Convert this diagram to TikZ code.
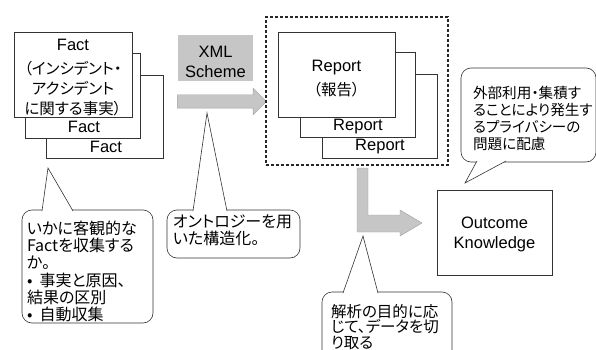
\documentclass[tikz,border=0pt]{standalone}
\usepackage{fontspec}
\setmainfont{Liberation Sans}
\newfontfamily\jpfont[RawFeature=+palt]{Noto Sans CJK JP}
\usepackage{tikz}
\usetikzlibrary{calc,shapes.arrows}
\newcommand{\latsize}{\fontsize{16.5}{20}\selectfont}
\newcommand{\jpsize}{\fontsize{16}{17.2}\selectfont}
\newcommand{\calltail}[3]{%
    \fill[white] (#1) -- (#2) -- (#3) -- cycle;
    \draw[callline] (#1) -- (#2) -- (#3);}

\begin{document}
\begin{tikzpicture}[x=1pt,y=-1pt,
    every node/.style={inner sep=0pt,outer sep=0pt},
    box/.style={draw=black!80,line width=0.6pt,fill=white,anchor=north west},
    greybox/.style={fill=gray!45,anchor=north west},
    bigarrow/.style={fill=gray!45,draw=gray!75,line width=0.4pt},
    reportframe/.style={draw=black!85,line width=1.5pt,densely dashed,anchor=north west},
    lbl/.style={font=\latsize},
    boxtext/.style={align=center,font={\fontsize{15.5}{20}\selectfont\jpfont}},
    callout/.style={draw=black!80,line width=0.6pt,fill=white,rounded corners=10pt,anchor=north west},
    calltext/.style={anchor=north west,align=left,font=\jpsize\jpfont},
    callline/.style={draw=black!80,line width=0.6pt}]

    % Define the page as the reference size
    \useasboundingbox (0,0) rectangle (596,350);

    % Facts
    \node (fact3) [box,minimum width=117pt,minimum height=83pt] at (46,75) {};
    \node (fact2) [box,minimum width=115pt,minimum height=85pt] at (25,53) {};
    \node (fact1) [box,minimum width=118pt,minimum height=85pt] at (14,32) {};
    \node (tfact1) [boxtext] at ($(fact1.center)+(0,3)$)
        {{\latsize\rmfamily Fact}\\[4pt]（インシデント・\\アクシデント\\に関する事実）};
    \node (lblfact2) [lbl] at (84,127) {Fact};
    \node (lblfact3) [lbl] at (106,147) {Fact};

    % XML Scheme
    \node (xml) [greybox,minimum width=75pt,minimum height=46pt] at (178,35) {};
    \node (txml) [lbl,align=center] at ($(xml.center)+(0,4)$) {XML\\Scheme};
    \node (xmlarrow) [single arrow,fill=gray!45,draw=gray!75,line width=0.4pt,
        minimum height=89pt,inner ysep=6.5pt,single arrow head extend=6.5pt] at (218.5,101.5) {};

    % Reports
    \node (repframe) [reportframe,minimum width=182pt,minimum height=148pt] at (266,17) {};
    \node (report3) [box,minimum width=115pt,minimum height=84pt] at (322,74) {};
    \node (report2) [box,minimum width=115pt,minimum height=85pt] at (300,52) {};
    \node (report1) [box,minimum width=117pt,minimum height=85pt] at (278,32) {};
    \node (treport1) [boxtext] at ($(report1.center)+(0,4)$)
        {{\latsize\rmfamily Report}\\[4pt]（報告）};
    \node (lblreport2) [lbl] at (358,127) {Report};
    \node (lblreport3) [lbl] at (380,147) {Report};

    % bent arrow down to the outcome
    \filldraw[bigarrow] (357,168) -- (368,168) -- (368,215) -- (400,215) -- (400,210)
        -- (422,223) -- (400,236) -- (400,232) -- (357,232) -- cycle;

    \node (outcome) [box,minimum width=115pt,minimum height=85pt] at (437,190) {};
    \node (toutcome) [lbl,align=center] at ($(outcome.center)+(0,2)$) {Outcome\\Knowledge};

    % Callouts
    \coordinate (tipfact) at (48,168);
    \coordinate (tipxml) at (207,113);
    \coordinate (tippriv) at (465,183);
    \coordinate (tipcut) at (363,236);

    \node (cfact) [callout,minimum width=131pt,minimum height=113pt] at (22,210) {};
    \calltail{42,211}{tipfact}{73,211}
    \node (tfact) [calltext] at (27,221)
        {いかに客観的な\\Factを収集する\\か。\\•\ \ 事実と原因、\\結果の区別\\•\ \ 自動収集};

    \node (cxml) [callout,minimum width=133pt,minimum height=48pt] at (167,210) {};
    \calltail{193,211}{tipxml}{227,211}
    \node (txml2) [calltext] at (173,215) {オントロジーを用\\いた構造化。};

    \node (cpriv) [callout,minimum width=135pt,minimum height=94pt] at (461,68) {};
    \calltail{477,161}{tippriv}{506,161}
    \node (tpriv) [calltext,font={\fontsize{14.6}{17}\selectfont\jpfont}] at (473,86)
        {外部利用・集積す\\ることにより発生す\\るプライバシーの\\問題に配慮};

    \node (ccut) [callout,minimum width=130pt,minimum height=73pt] at (322,292) {};
    \calltail{343,293}{tipcut}{378,293}
    \node (tcut) [calltext,font={\fontsize{15.5}{15.8}\selectfont\jpfont}] at (331,304)
        {解析の目的に応\\じて、データを切\\り取る};

\end{tikzpicture}
\end{document}
